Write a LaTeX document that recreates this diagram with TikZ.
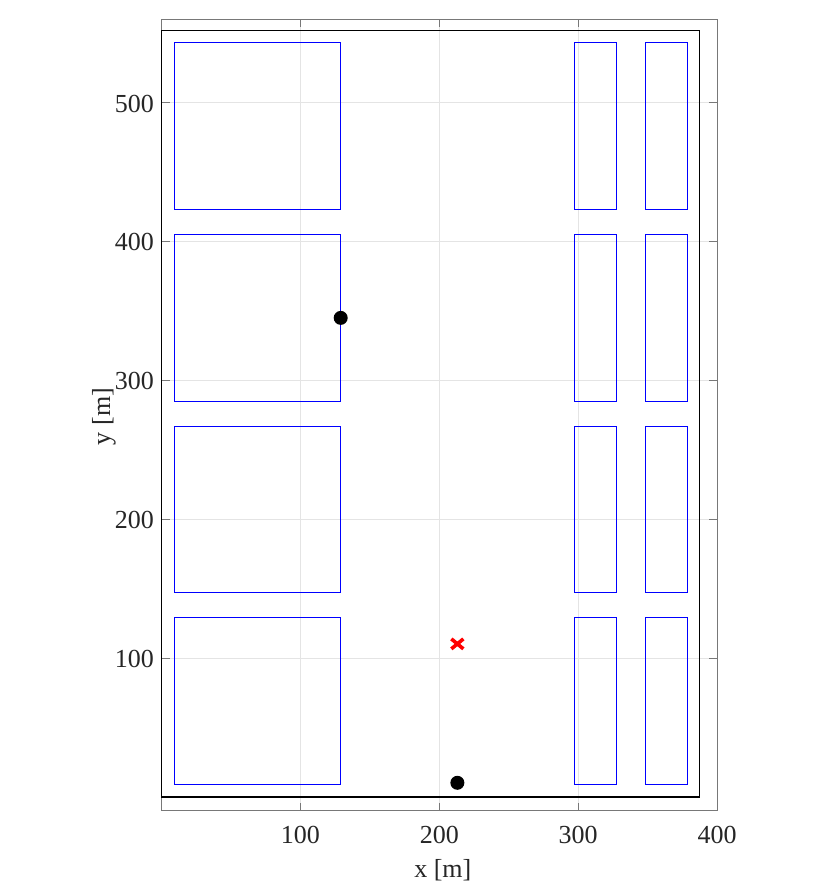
\documentclass[tikz,border=0pt]{standalone}
\usepackage{fontspec}
\setmainfont{Liberation Serif}
\definecolor{gridc}{RGB}{228,228,228}
\definecolor{axc}{RGB}{120,120,120}
\definecolor{txtc}{RGB}{38,38,38}
\tikzset{
  gridline/.style={draw=gridc, line width=0.8pt},
  block/.style={draw=blue, line width=1pt},
  frame/.style={draw=black, line width=1.2pt},
  axbox/.style={draw=axc, line width=1pt},
  tickmark/.style={draw=axc, line width=1pt},
  ticklab/.style={inner sep=0pt, text=txtc, font=\fontsize{26}{30}\selectfont},
  dotmark/.style={circle, fill=black, inner sep=0pt, minimum size=14pt},
  crossmark/.style={draw=red, line width=3.6pt}
}
\begin{document}
\begin{tikzpicture}[x=1pt,y=1pt]
\useasboundingbox (0,0) rectangle (830,888);
\fill[white] (0,0) rectangle (830,888);
\begin{scope}[shift={(161.5,90.9)}, x=1.389pt, y=1.389pt]
  % grid
  \foreach \g in {100,200,300,400} \draw[gridline] (\g,-10) -- (\g,560);
  \foreach \g in {100,200,300,400,500} \draw[gridline] (0,\g) -- (400,\g);
  % blocks
  \foreach \yb in {9,147,285,423} {
    \draw[block] (9,\yb) rectangle (129,\yb+120);
    \draw[block] (297.5,\yb) rectangle (327.5,\yb+120);
    \draw[block] (348.5,\yb) rectangle (378.5,\yb+120);
  }
  % axis box
  \draw[axbox] (0,-10) rectangle (400,560);
  % ticks
  \foreach \g in {100,200,300} {
    \draw[tickmark] (\g,-10) -- ++(0,5.8);
    \draw[tickmark] (\g,560) -- ++(0,-5.8);
  }
  \foreach \g in {100,200,300,400,500} {
    \draw[tickmark] (0,\g) -- ++(5.8,0);
    \draw[tickmark] (400,\g) -- ++(-5.8,0);
  }
  % inner frame
  \draw[frame] (0,0) rectangle (387.5,552);
  % tick labels
  \foreach \g in {100,200,300,400} \node[ticklab, anchor=base] at (\g,-33.5) {\g};
  \foreach \g in {100,200,300,400,500} \node[ticklab, anchor=base east] at (-5.4,\g-6.8) {\g};
  % axis labels
  \node[ticklab, anchor=base] (xl) at (202.5,-58.2) {x [m]};
  \node[ticklab, anchor=base, rotate=90] (yl) at (-37,274) {y [m]};
  % markers
  \node[dotmark] (p1) at (129,345) {};
  \node[dotmark] (p2) at (213,10.3) {};
  \coordinate (c) at (213,110.3);
  \draw[crossmark] ([shift={(-6pt,-5pt)}]c) -- ([shift={(6pt,5pt)}]c);
  \draw[crossmark] ([shift={(-6pt,5pt)}]c) -- ([shift={(6pt,-5pt)}]c);
\end{scope}
\end{tikzpicture}
\end{document}
